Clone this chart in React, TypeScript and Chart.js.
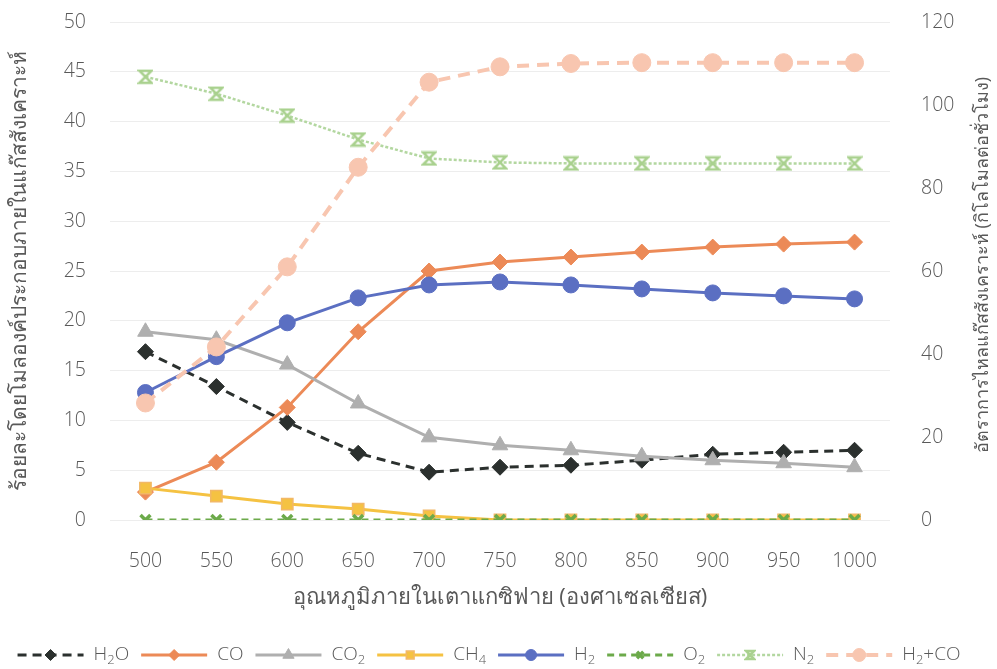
import React, { useEffect, useRef } from "react";
import { Chart, registerables } from "chart.js";
import { drawPoint } from "chart.js/helpers";

Chart.register(...registerables);

// Gasifier temperature (°C)
const temperatures = ["500", "550", "600", "650", "700", "750", "800", "850", "900", "950", "1000"];

// Syngas composition, mol %
const h2o = [16.9, 13.4, 9.8, 6.7, 4.8, 5.3, 5.5, 6.0, 6.6, 6.8, 7.0];
const co = [2.8, 5.8, 11.3, 18.9, 25.0, 25.9, 26.4, 26.9, 27.4, 27.7, 27.9];
const co2 = [18.9, 18.1, 15.6, 11.7, 8.3, 7.5, 7.0, 6.4, 6.0, 5.7, 5.3];
const ch4 = [3.2, 2.4, 1.6, 1.1, 0.4, 0.0, 0.0, 0.0, 0.0, 0.0, 0.0];
const h2 = [12.8, 16.4, 19.8, 22.3, 23.6, 23.9, 23.6, 23.2, 22.8, 22.5, 22.2];
const o2 = [0, 0, 0, 0, 0, 0, 0, 0, 0, 0, 0];
const n2 = [44.5, 42.8, 40.6, 38.2, 36.3, 35.9, 35.8, 35.8, 35.8, 35.8, 35.8];

// H2 + CO flow rate, kmol/h (right axis)
const syngasFlow = [28.2, 41.7, 61.0, 85.0, 105.5, 109.2, 110.0, 110.2, 110.2, 110.2, 110.2];

const leftTitle = "ร้อยละโดยโมลองค์ประกอบภายในแก๊สสังเคราะห์";
const rightTitle = "อัตราการไหลแก๊สสังเคราะห์ (กิโลโมลต่อชั่วโมง)";
const xTitle = "อุณหภูมิภายในเตาแกซิฟาย (องศาเซลเซียส)";

const FONT = "'Open Sans', 'Noto Sans', 'DejaVu Sans', sans-serif";
const TEXT = "#595959";
const TICK_FONT = { family: FONT, size: 19.5, weight: 300 as any };

// Hourglass marker used for N2
function hourglassMarker(color: string, size: number) {
  const c = document.createElement("canvas");
  c.width = size;
  c.height = size;
  const g = c.getContext("2d")!;
  const p = 2;
  g.strokeStyle = color;
  g.lineWidth = 2.5;
  g.lineCap = "round";
  g.beginPath();
  g.moveTo(p, p);
  g.lineTo(size - p, p);
  g.lineTo(p, size - p);
  g.lineTo(size - p, size - p);
  g.closePath();
  g.stroke();
  return c;
}

type Series = {
  label: string;
  data: number[];
  color: string;
  width: number;
  dash: number[];
  pointStyle: any;
  legendStyle: any;
  radius: number;
  pointFill: string;
  pointBorder: string;
  pointBorderWidth: number;
  axis: string;
};

function buildSeries(): Series[] {
  const n2Marker = hourglassMarker("#A9D18E", 16);
  const n2Small = hourglassMarker("#A9D18E", 12);
  return [
    { label: "H2O", data: h2o, color: "#2B302E", width: 3, dash: [9, 6], pointStyle: "rectRot", legendStyle: "rectRot", radius: 8, pointFill: "#2B302E", pointBorder: "#2B302E", pointBorderWidth: 1, axis: "y" },
    { label: "CO", data: co, color: "#EC8A57", width: 3, dash: [], pointStyle: "rectRot", legendStyle: "rectRot", radius: 8, pointFill: "#EC8A57", pointBorder: "#EC8A57", pointBorderWidth: 1, axis: "y" },
    { label: "CO2", data: co2, color: "#AFAFAF", width: 3, dash: [], pointStyle: "triangle", legendStyle: "triangle", radius: 9, pointFill: "#AFAFAF", pointBorder: "#AFAFAF", pointBorderWidth: 1, axis: "y" },
    { label: "CH4", data: ch4, color: "#F5C242", width: 3, dash: [], pointStyle: "rect", legendStyle: "rect", radius: 8, pointFill: "#F5C242", pointBorder: "#F2B866", pointBorderWidth: 1.5, axis: "y" },
    { label: "H2", data: h2, color: "#5B6FC2", width: 3, dash: [], pointStyle: "circle", legendStyle: "circle", radius: 8, pointFill: "#5B6FC2", pointBorder: "#5B6FC2", pointBorderWidth: 1, axis: "y" },
    { label: "O2", data: o2, color: "#6CAA4A", width: 3, dash: [7, 5], pointStyle: "crossRot", legendStyle: "crossRot", radius: 7, pointFill: "#6CAA4A", pointBorder: "#6CAA4A", pointBorderWidth: 3.5, axis: "y" },
    { label: "N2", data: n2, color: "#B3D7A0", width: 2.5, dash: [3, 2], pointStyle: n2Marker, legendStyle: n2Small, radius: 8, pointFill: "#A9D18E", pointBorder: "#A9D18E", pointBorderWidth: 1, axis: "y" },
    { label: "H2+CO", data: syngasFlow, color: "#F8C6B0", width: 4, dash: [12, 8], pointStyle: "circle", legendStyle: "circle", radius: 9, pointFill: "#F8C6B0", pointBorder: "#F8C6B0", pointBorderWidth: 1, axis: "y1" },
  ];
}

// Legend drawn below the axis title: line sample + marker + label with subscript digits
const lineLegend = {
  id: "lineLegend",
  afterDraw(chart: any, _args: any, opts: any) {
    const series: Series[] = opts.series;
    const ctx = chart.ctx as CanvasRenderingContext2D;
    const y = opts.y;
    const lineLen = 66;
    const gapText = 10;
    const gapItem = 12;
    const mainFont = `300 19px ${FONT}`;
    const subFont = `300 13px ${FONT}`;
    ctx.save();
    const parts = series.map((s) => s.label.split(/(\d)/).filter((t) => t.length));
    const textWidth = (ps: string[]) =>
      ps.reduce((w, t) => {
        ctx.font = /\d/.test(t) ? subFont : mainFont;
        return w + ctx.measureText(t).width;
      }, 0);
    const widths = parts.map(textWidth);
    const total = widths.reduce((a, w) => a + lineLen + gapText + w, 0) + gapItem * (series.length - 1);
    let x = opts.centerX - total / 2;
    series.forEach((s, i) => {
      ctx.strokeStyle = s.color;
      ctx.lineWidth = s.width;
      ctx.setLineDash(s.dash);
      ctx.beginPath();
      ctx.moveTo(x, y);
      ctx.lineTo(x + lineLen, y);
      ctx.stroke();
      ctx.setLineDash([]);
      ctx.fillStyle = s.pointFill;
      ctx.strokeStyle = s.pointBorder;
      ctx.lineWidth = s.pointBorderWidth;
      drawPoint(ctx, { pointStyle: s.legendStyle, radius: s.radius - 2.5, borderWidth: s.pointBorderWidth, rotation: 0 } as any, x + lineLen / 2, y);
      let tx = x + lineLen + gapText;
      ctx.fillStyle = TEXT;
      ctx.textBaseline = "middle";
      ctx.textAlign = "left";
      parts[i].forEach((t) => {
        const sub = /\d/.test(t);
        ctx.font = sub ? subFont : mainFont;
        ctx.fillText(t, tx, sub ? y + 5 : y);
        tx += ctx.measureText(t).width;
      });
      x += lineLen + gapText + widths[i] + gapItem;
    });
    ctx.restore();
  },
};

// Right-axis title, reading bottom to top like the left one
const rightAxisTitle = {
  id: "rightAxisTitle",
  afterDraw(chart: any, _args: any, opts: any) {
    const ctx = chart.ctx as CanvasRenderingContext2D;
    ctx.save();
    ctx.translate(opts.x, opts.y);
    ctx.rotate(-Math.PI / 2);
    ctx.font = `${opts.size}px ${FONT}`;
    ctx.fillStyle = TEXT;
    ctx.textAlign = "center";
    ctx.textBaseline = "middle";
    ctx.fillText(opts.text, 0, 0);
    ctx.restore();
  },
};

// Keep the plot area edges fixed instead of growing around the tick labels
const fixVertical = (width: number) => (scale: any) => {
  scale.width = width;
  scale.paddingTop = 0;
  scale.paddingBottom = 0;
};

export default function App() {
  const canvasRef = useRef<HTMLCanvasElement | null>(null);

  useEffect(() => {
    if (!canvasRef.current) return;
    const series = buildSeries();
    const chart = new Chart(canvasRef.current, {
      type: "line",
      data: {
        labels: temperatures,
        datasets: series.map((s, i) => ({
          label: s.label,
          data: s.data,
          yAxisID: s.axis,
          order: series.length - 1 - i,
          borderColor: s.color,
          backgroundColor: s.pointFill,
          borderWidth: s.width,
          borderDash: s.dash,
          tension: 0,
          fill: false,
          pointStyle: s.pointStyle,
          pointRadius: s.radius,
          pointBackgroundColor: s.pointFill,
          pointBorderColor: s.pointBorder,
          pointBorderWidth: s.pointBorderWidth,
        })),
      },
      options: {
        responsive: false,
        maintainAspectRatio: false,
        animation: false,
        devicePixelRatio: 1,
        layout: { padding: { top: 22, left: 0, right: 0, bottom: 0 } },
        plugins: {
          legend: { display: false },
          tooltip: { enabled: false },
          lineLegend: { series, y: 655, centerX: 489 },
          rightAxisTitle: { text: rightTitle, x: 983, y: 265, size: 18 },
        } as any,
        scales: {
          x: {
            type: "category",
            offset: true,
            grid: { display: false, drawTicks: false },
            border: { display: false },
            ticks: { color: TEXT, font: TICK_FONT, padding: 30, maxRotation: 0 },
            title: {
              display: true,
              text: xTitle,
              color: TEXT,
              font: { family: FONT, size: 22 },
              padding: { top: 0, bottom: 58 },
            },
            afterFit: (scale: any) => {
              scale.height = 149;
            },
          },
          y: {
            position: "left",
            min: 0,
            max: 50,
            ticks: { stepSize: 5, color: TEXT, font: TICK_FONT, padding: 24 },
            grid: { color: "#EDEDED", lineWidth: 1, drawTicks: false },
            border: { display: false },
            title: {
              display: true,
              text: leftTitle,
              color: TEXT,
              font: { family: FONT, size: 21 },
              padding: { top: 7, bottom: 0 },
            },
            afterFit: fixVertical(110),
          },
          y1: {
            position: "right",
            min: 0,
            max: 120,
            ticks: { stepSize: 20, color: TEXT, font: TICK_FONT, padding: 31 },
            grid: { display: false, drawTicks: false },
            border: { display: false },
            title: { display: false },
            afterFit: fixVertical(107),
          },
        },
      },
      plugins: [lineLegend, rightAxisTitle],
    });
    return () => chart.destroy();
  }, []);

  return (
    <div style={{ position: "fixed", left: 0, top: 0, width: 997, height: 669, background: "#fff" }}>
      <canvas ref={canvasRef} width={997} height={669} style={{ display: "block" }} />
    </div>
  );
}
